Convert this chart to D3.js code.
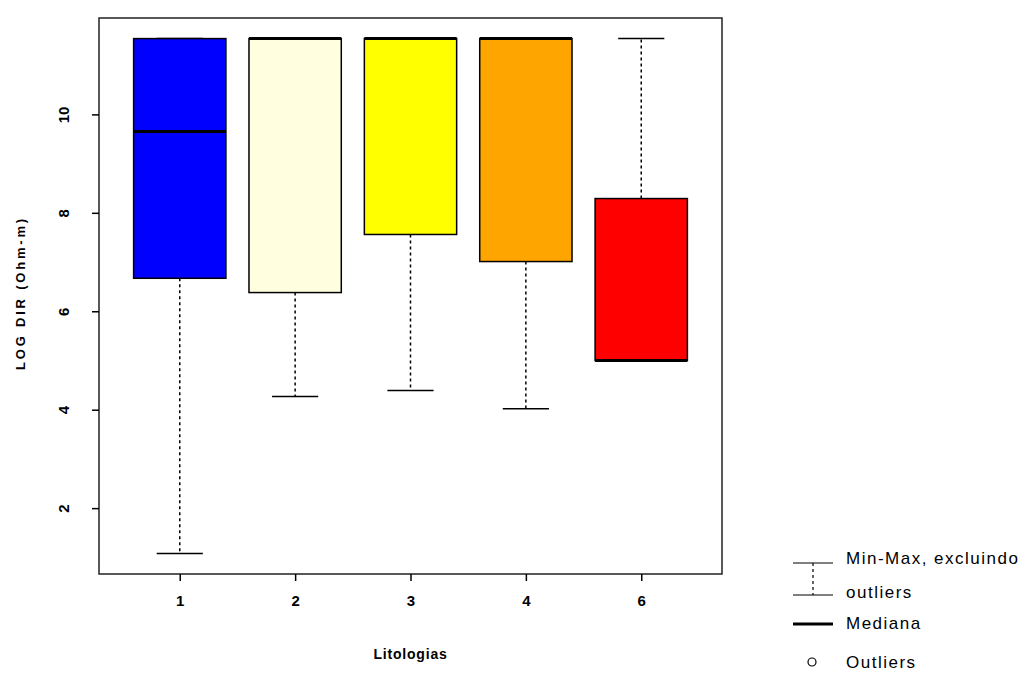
<!DOCTYPE html>
<html>
<head>
<meta charset="utf-8">
<title>LOG DIR por Litologia</title>
<script src="https://cdn.jsdelivr.net/npm/d3@7"></script>
<style>
    body { margin: 0; background: #fff; }
    .tick text { font-family: "Liberation Sans", Arial, sans-serif; font-weight: bold; font-size: 15px; fill: #000; }
    .title { font-family: "Liberation Sans", Arial, sans-serif; font-weight: bold; fill: #000; }
    .legend text { font-family: "Liberation Sans", Arial, sans-serif; font-size: 17px; letter-spacing: 1.5px; fill: #000; }
</style>
</head>
<body>
<div id="chart"></div>
<script>
    // lithology classes and box stats
    var categories = ["1", "2", "3", "4", "6"];
    var mins    = [1.08, 4.27, 4.39, 4.02, 5.00];
    var q1s     = [6.67, 6.38, 7.56, 7.01, 5.00];
    var medians = [9.65, 11.54, 11.54, 11.54, 5.00];
    var q3s     = [11.54, 11.54, 11.54, 11.54, 8.29];
    var maxs    = [11.54, 11.54, 11.54, 11.54, 11.54];
    var fills   = ["#0000ff", "#ffffe0", "#ffff00", "#ffa500", "#ff0000"];
    var yTicks  = [2, 4, 6, 8, 10];

    var w = 1034, h = 673;
    // plot frame (note: "top" is taken by window.top, so prefix everything)
    var pLeft = 99, pRight = 722, pTop = 18, pBottom = 574;

    var svg = d3.select("#chart").append("svg")
        .attr("width", w)
        .attr("height", h);

    // R style ranges: 4% padding each side
    var yLo = d3.min(mins), yHi = d3.max(maxs), pad = (yHi - yLo) * 0.04;
    var x = d3.scaleLinear().domain([0.3, categories.length + 0.7]).range([pLeft, pRight]);
    var y = d3.scaleLinear().domain([yLo - pad, yHi + pad]).range([pBottom, pTop]);

    var boxW = x(1.8) - x(1);   // 0.8 of a category, like R's boxwex
    var data = categories.map(function(c, i) {
        return {cat: c, pos: i + 1, min: mins[i], q1: q1s[i], med: medians[i], q3: q3s[i], max: maxs[i], fill: fills[i]};
    });

    var g = svg.selectAll("g.box")
        .data(data)
        .enter()
        .append("g")
        .attr("class", "box");

    // dashed whiskers
    g.append("line")
        .attr("x1", function(d) { return x(d.pos); })
        .attr("x2", function(d) { return x(d.pos); })
        .attr("y1", function(d) { return y(d.q1); })
        .attr("y2", function(d) { return y(d.min); })
        .attr("stroke", "#000").attr("stroke-width", 1.5).attr("stroke-dasharray", "3,3");
    g.append("line")
        .attr("x1", function(d) { return x(d.pos); })
        .attr("x2", function(d) { return x(d.pos); })
        .attr("y1", function(d) { return y(d.q3); })
        .attr("y2", function(d) { return y(d.max); })
        .attr("stroke", "#000").attr("stroke-width", 1.5).attr("stroke-dasharray", "3,3");

    // caps, half the box width
    ["min", "max"].forEach(function(k) {
        g.append("line")
            .attr("x1", function(d) { return x(d.pos) - boxW / 4; })
            .attr("x2", function(d) { return x(d.pos) + boxW / 4; })
            .attr("y1", function(d) { return y(d[k]); })
            .attr("y2", function(d) { return y(d[k]); })
            .attr("stroke", "#000").attr("stroke-width", 1.5);
    });

    // boxes
    g.append("rect")
        .attr("x", function(d) { return x(d.pos) - boxW / 2; })
        .attr("width", boxW)
        .attr("y", function(d) { return y(d.q3); })
        .attr("height", function(d) { return y(d.q1) - y(d.q3); })
        .attr("fill", function(d) { return d.fill; })
        .attr("stroke", "#000").attr("stroke-width", 1.5);

    // medians
    g.append("line")
        .attr("x1", function(d) { return x(d.pos) - boxW / 2; })
        .attr("x2", function(d) { return x(d.pos) + boxW / 2; })
        .attr("y1", function(d) { return y(d.med); })
        .attr("y2", function(d) { return y(d.med); })
        .attr("stroke", "#000").attr("stroke-width", 3);

    // frame
    svg.append("rect")
        .attr("x", pLeft).attr("y", pTop)
        .attr("width", pRight - pLeft).attr("height", pBottom - pTop)
        .attr("fill", "none").attr("stroke", "#222").attr("stroke-width", 1.5);

    // axes
    var yAxis = svg.append("g")
        .attr("transform", "translate(" + pLeft + ",0)")
        .call(d3.axisLeft(y).tickValues(yTicks).tickSize(7).tickPadding(0));
    yAxis.select(".domain").remove();
    yAxis.selectAll(".tick line").attr("stroke", "#000").attr("stroke-width", 1.5);
    yAxis.selectAll(".tick text")
        .attr("transform", "rotate(-90)")
        .attr("x", 0).attr("y", -30).attr("dy", 0)
        .attr("text-anchor", "middle");

    var xAxis = svg.append("g")
        .attr("transform", "translate(0," + pBottom + ")")
        .call(d3.axisBottom(x).tickValues(d3.range(1, categories.length + 1))
            .tickFormat(function(d) { return categories[d - 1]; })
            .tickSize(7).tickPadding(14));
    xAxis.select(".domain").remove();
    xAxis.selectAll(".tick line").attr("stroke", "#000").attr("stroke-width", 1.5);

    // axis titles
    svg.append("text").attr("class", "title")
        .attr("x", (pLeft + pRight) / 2).attr("y", 659)
        .attr("text-anchor", "middle")
        .style("font-size", "14px").style("letter-spacing", "0.8px")
        .text("Litologias");
    svg.append("text").attr("class", "title")
        .attr("transform", "translate(25,293) rotate(-90)")
        .attr("text-anchor", "middle")
        .style("font-size", "13px").style("letter-spacing", "2.8px")
        .text("LOG DIR (Ohm-m)");

    // legend
    var lg = svg.append("g").attr("class", "legend");
    lg.append("line").attr("x1", 793).attr("x2", 833).attr("y1", 563).attr("y2", 563).attr("stroke", "#000").attr("stroke-width", 1.2);
    lg.append("line").attr("x1", 813).attr("x2", 813).attr("y1", 563).attr("y2", 595).attr("stroke", "#000").attr("stroke-width", 1.2).attr("stroke-dasharray", "3,3");
    lg.append("line").attr("x1", 793).attr("x2", 833).attr("y1", 595).attr("y2", 595).attr("stroke", "#000").attr("stroke-width", 1.2);
    lg.append("line").attr("x1", 793).attr("x2", 833).attr("y1", 624).attr("y2", 624).attr("stroke", "#000").attr("stroke-width", 3);
    lg.append("circle").attr("cx", 812).attr("cy", 662).attr("r", 4).attr("fill", "none").attr("stroke", "#000").attr("stroke-width", 1.2);
    lg.append("text").attr("x", 846).attr("y", 564).text("Min-Max, excluindo");
    lg.append("text").attr("x", 846).attr("y", 598).text("outliers");
    lg.append("text").attr("x", 846).attr("y", 629).text("Mediana");
    lg.append("text").attr("x", 846).attr("y", 668).text("Outliers");
</script>
</body>
</html>
